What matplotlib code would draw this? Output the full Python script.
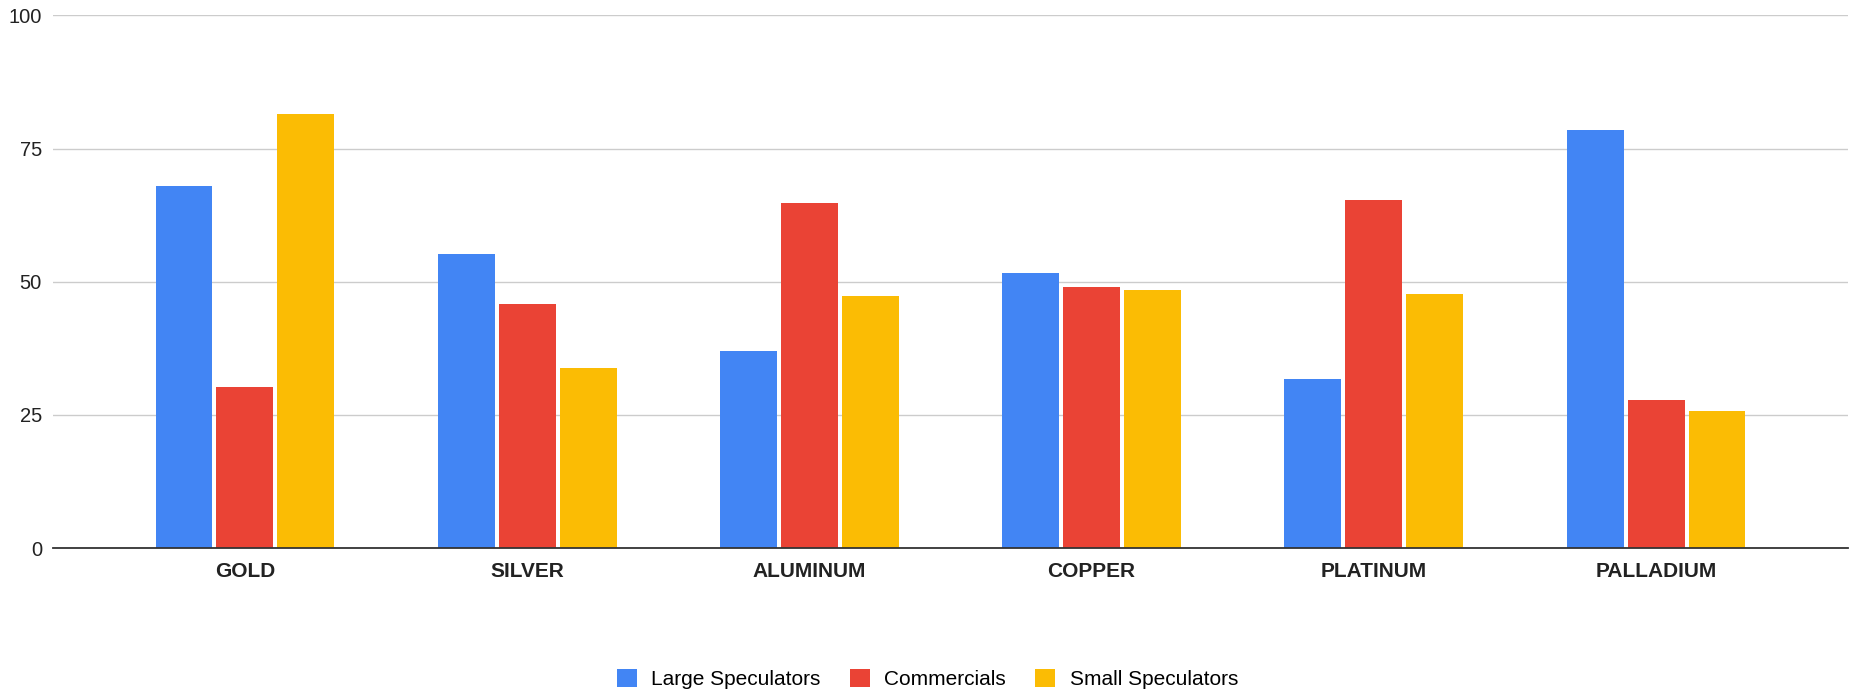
import numpy as np
import matplotlib
matplotlib.use("Agg")
import matplotlib.pyplot as plt

# Data
metals = ["GOLD", "SILVER", "ALUMINUM", "COPPER", "PLATINUM", "PALLADIUM"]
large_specs = [68.0, 55.2, 37.0, 51.6, 31.8, 78.4]
commercials = [30.2, 45.8, 64.7, 49.0, 65.4, 27.8]
small_specs = [81.4, 33.8, 47.4, 48.4, 47.7, 25.8]
series_names = ["Large Speculators", "Commercials", "Small Speculators"]
colors = ["#4285F4", "#EA4335", "#FBBC04"]
y_ticks = [0, 25, 50, 75, 100]

plt.rcParams['font.family'] = ['Liberation Sans', 'DejaVu Sans']

fig = plt.figure(figsize=(18.55, 6.93), dpi=100)
ax = fig.add_axes([0.0286, 0.2092, 0.9676, 0.7686])

x = np.arange(len(metals))
width = 0.2017
step = 0.216
for i, (vals, name, c) in enumerate(zip([large_specs, commercials, small_specs], series_names, colors)):
    ax.bar(x + (i - 1) * step, vals, width, color=c, label=name, zorder=3)

ax.set_xlim(-0.68, 5.68)
ax.set_ylim(0, 100)
ax.set_yticks(y_ticks)
ax.set_xticks(x)
ax.set_xticklabels(metals, fontsize=15, fontweight='bold', color='#222222')
ax.tick_params(axis='x', length=0, pad=10)
ax.tick_params(axis='y', length=0, pad=8, labelsize=14.5, labelcolor='#222222')

ax.grid(axis='y', color='#cccccc', linewidth=1, zorder=0)
for s in ['top', 'right', 'left']:
    ax.spines[s].set_visible(False)
ax.spines['bottom'].set_color('#333333')
ax.spines['bottom'].set_linewidth(1.3)
ax.spines['bottom'].set_zorder(4)

fig.legend(loc='center', bbox_to_anchor=(0.5, 0.02), ncol=3, frameon=False,
           fontsize=15, handlelength=0.95, handleheight=0.95,
           handletextpad=0.7, columnspacing=1.4)

plt.savefig("out.png", dpi=100)
plt.close()
